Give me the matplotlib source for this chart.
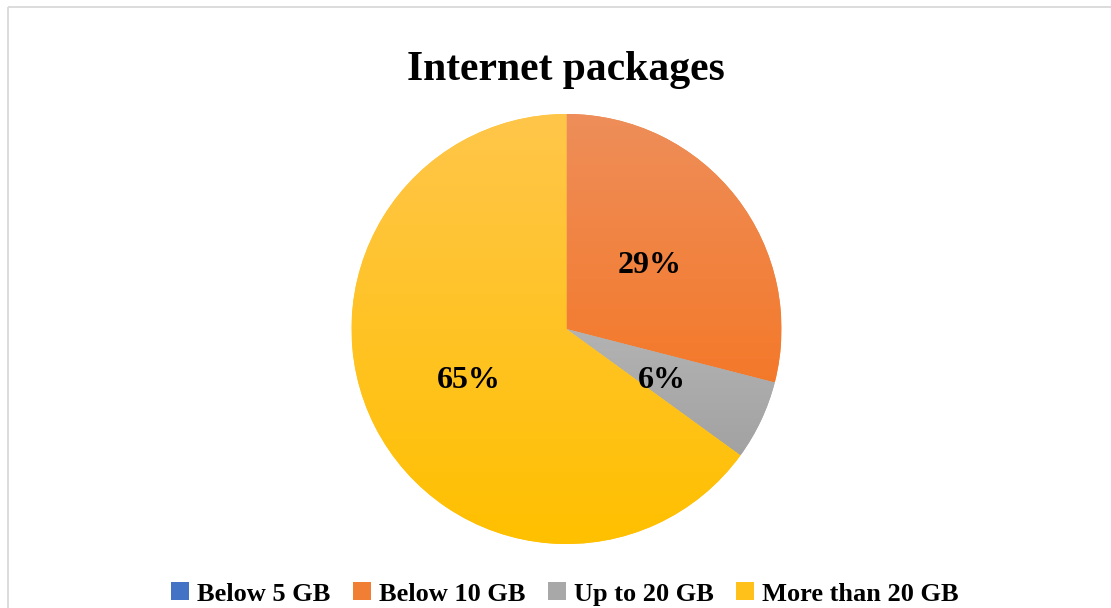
import matplotlib
matplotlib.use("Agg")
import matplotlib.pyplot as plt
import numpy as np
from matplotlib.colors import LinearSegmentedColormap
from matplotlib.lines import Line2D

categories = ["Below 5 GB", "Below 10 GB", "Up to 20 GB", "More than 20 GB"]
values = [0, 29, 6, 65]
pct_labels = ["", "29%", "6%", "65%"]
base_colors = ["#4472C4", "#F07E33", "#A8A8A8", "#FFC11A"]
top_colors = ["#6F93D6", "#EE8E5A", "#B3B3B3", "#FFC64A"]
bot_colors = ["#3F6BBE", "#F4792A", "#A2A2A2", "#FFC000"]

W, H = 1111, 608
fig = plt.figure(figsize=(W / 100, H / 100), dpi=100)
fig.patch.set_facecolor("white")
plt.rcParams["font.family"] = ["Liberation Serif", "DejaVu Serif"]

cx, cy, R = 566.5, 329, 215
ax = fig.add_axes([(cx - R) / W, (H - cy - R) / H, 2 * R / W, 2 * R / H])
ax.set_xlim(-1, 1)
ax.set_ylim(-1, 1)
ax.set_aspect("equal")
ax.axis("off")

wedges, _ = ax.pie(values, colors=base_colors, startangle=90, counterclock=False,
                   radius=1, wedgeprops=dict(linewidth=0))

grad = np.linspace(0, 1, 256).reshape(-1, 1)
for w, tc, bc, v in zip(wedges, top_colors, bot_colors, values):
    if v <= 0:
        continue
    ext = w.get_path().get_extents()
    cmap = LinearSegmentedColormap.from_list("g", [tc, bc])
    im = ax.imshow(grad, cmap=cmap, aspect="auto", origin="upper",
                   extent=[ext.x0, ext.x1, ext.y0, ext.y1], zorder=w.get_zorder() + 0.1,
                   interpolation="bilinear")
    im.set_clip_path(w)
ax.set_xlim(-1, 1)
ax.set_ylim(-1, 1)

# percentage labels (positions in data units relative to pie)
label_pos = {"29%": (650, 273), "6%": (661.5, 388), "65%": (469, 388)}
for lab in pct_labels:
    if not lab:
        continue
    px, py = label_pos[lab]
    x = (px - cx) / R
    y = (cy - py) / R
    ax.text(x, y, lab, ha="center", va="baseline", fontsize=23, fontweight="bold",
            color="black", zorder=10)

fig.text(565.5 / W, (H - 80) / H, "Internet packages", ha="center", va="baseline",
         fontsize=30, fontweight="bold", color="black")

leg = fig.legend(wedges, categories, loc="center", ncol=4,
                 bbox_to_anchor=(565 / W, (H - 594) / H), frameon=False,
                 prop=dict(size=19, weight="bold"), handlelength=0.68, handleheight=0.68,
                 handletextpad=0.3, columnspacing=0.85, borderpad=0, borderaxespad=0)

# chart frame (left and top edges visible)
fig.add_artist(Line2D([7.5 / W, 7.5 / W], [0, (H - 6.5) / H], transform=fig.transFigure,
                      color="#D9D9D9", lw=1.3, solid_capstyle="butt"))
fig.add_artist(Line2D([7.5 / W, 1], [(H - 6.5) / H, (H - 6.5) / H], transform=fig.transFigure,
                      color="#D9D9D9", lw=1.3, solid_capstyle="butt"))

fig.savefig("out.png", dpi=100, facecolor="white")
